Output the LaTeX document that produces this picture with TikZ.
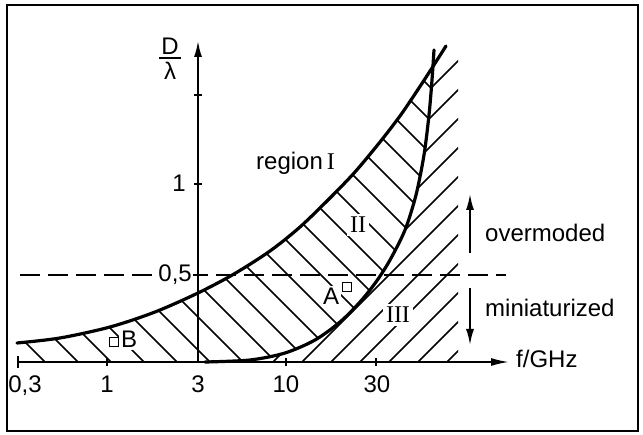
\documentclass[tikz,border=0pt]{standalone}
\usepackage{fontspec}
\setmainfont{Liberation Sans}
\newfontfamily\romfont{Liberation Serif}
\usetikzlibrary{arrows.meta}
\begin{document}
\begin{tikzpicture}[x=1pt,y=-1pt,
  font=\fontsize{24}{28}\selectfont,
  curve/.style={line width=3.2pt, line cap=round, line join=round},
  hatch/.style={line width=1.6pt},
  axis/.style={line width=1.8pt},
  tickmark/.style={line width=1.6pt},
  lbl/.style={inner sep=2pt, fill=white},
  plain/.style={inner sep=1pt},
  sq/.style={draw, line width=1pt, minimum size=9pt, inner sep=0pt, fill=white},
  arr/.style={line width=1.8pt, -{Latex[length=16pt,width=8pt]}}]
\useasboundingbox (0,0) rectangle (643,435);
\def\upper{(17,343) (60,338) (110,327) (155,312) (198,293) (234,274) (270,251) (300,227) (330,198) (355,172) (380,142) (400,116) (417,91) (432,68) (446,46)}
\def\lowerrev{(434,50) (432,80) (429,115) (424,155) (416,195) (405,230) (390,260) (376,282) (360,302) (340,322) (315,340) (285,353) (250,360) (205,362)}
\def\lower{(205,362) (250,360) (285,353) (315,340) (340,322) (360,302) (376,282) (390,260) (405,230) (416,195) (424,155) (429,115) (432,80) (434,50)}
% frame
\draw[line width=2pt] (7,5) rectangle (638,431);
% hatching region II
\begin{scope}
  \clip (0,72) rectangle (460,362);
  \clip plot[smooth] coordinates {\upper} -- plot[smooth] coordinates {\lowerrev} -- (17,362) -- cycle;
  \foreach \c in {-350,-317,...,420} {
    \draw[hatch] (\c,0) -- ({\c+440},440);
  }
\end{scope}
% hatching region III
\begin{scope}
  \clip (0,60) rectangle (458,362);
  \clip plot[smooth] coordinates {\lower} -- (460,40) -- (460,362) -- cycle;
  \foreach \c in {490,519,...,840} {
    \draw[hatch] (\c,0) -- ({\c-440},440);
  }
\end{scope}
% dashed 0.5 line
\coordinate (dsA) at (20,275);
\coordinate (dsB) at (506,275);
\draw[line width=1.8pt, dash pattern=on 20pt off 8pt] (dsA) -- (dsB);
% labels
\node[lbl, anchor=base west] (regI) at (254,170) {region\,\romfont I};
\node[lbl, inner sep=3pt, anchor=base] (rII) at (358,233) {\romfont II};
\node[lbl, inner sep=3pt, anchor=base] (rIII) at (398,323) {\romfont III};
\node[lbl, anchor=base west] (lA) at (321,305) {A};
\node[sq] (sqA) at (347,287) {};
\node[sq] (sqB) at (114,342) {};
\node[lbl, anchor=base west] (lB) at (119,348) {B};
\node[lbl, anchor=base east, inner sep=1pt] (l05) at (193,282) {0,5};
\node[plain, anchor=base east] (l1) at (187,192) {1};
% axes
\coordinate (xs) at (18,362);
\coordinate (xe) at (509,362);
\coordinate (o) at (198,362);
\coordinate (ye) at (198,41);
\draw[axis, -{Latex[length=18pt,width=8pt]}] (xs) -- (xe);
\draw[axis, -{Latex[length=16pt,width=8pt]}] (o) -- (ye);
% ticks
\draw[tickmark] (18,356) -- (18,368);
\draw[tickmark] (107,358) -- (107,366);
\draw[tickmark] (286,358) -- (286,366);
\draw[tickmark] (376,358) -- (376,366);
\draw[tickmark] (194,95) -- (202,95);
\draw[tickmark] (194,184) -- (202,184);
\draw[tickmark] (194,275) -- (202,275);
% curves
\draw[curve] plot[smooth] coordinates {\upper};
\draw[curve] plot[smooth] coordinates {\lower};
% axis labels
\node[plain, anchor=base] (t03) at (25,393) {0,3};
\node[plain, anchor=base] (t1) at (107,393) {1};
\node[plain, anchor=base] (t3) at (198,393) {3};
\node[plain, anchor=base] (t10) at (286,393) {10};
\node[plain, anchor=base] (t30) at (377,393) {30};
\node[plain, anchor=base west] (fGHz) at (515,368) {f/GHz};
\node[plain, anchor=base] (nD) at (170,55) {D};
\node[plain, anchor=base] (nlam) at (170,80) {λ};
\draw[line width=1.6pt] ([xshift=-1pt,yshift=-2pt]nD.south west) -- ([xshift=1pt,yshift=-2pt]nD.south east);
% regime arrows
\coordinate (ua1) at (470,253);
\coordinate (ua2) at (470,194);
\coordinate (da1) at (470,288);
\coordinate (da2) at (470,345);
\draw[arr] (ua1) -- (ua2);
\draw[arr] (da1) -- (da2);
\node[plain, anchor=base west] (lover) at (484,242) {overmoded};
\node[plain, anchor=base west] (lmini) at (484,317) {miniaturized};
\end{tikzpicture}
\end{document}
